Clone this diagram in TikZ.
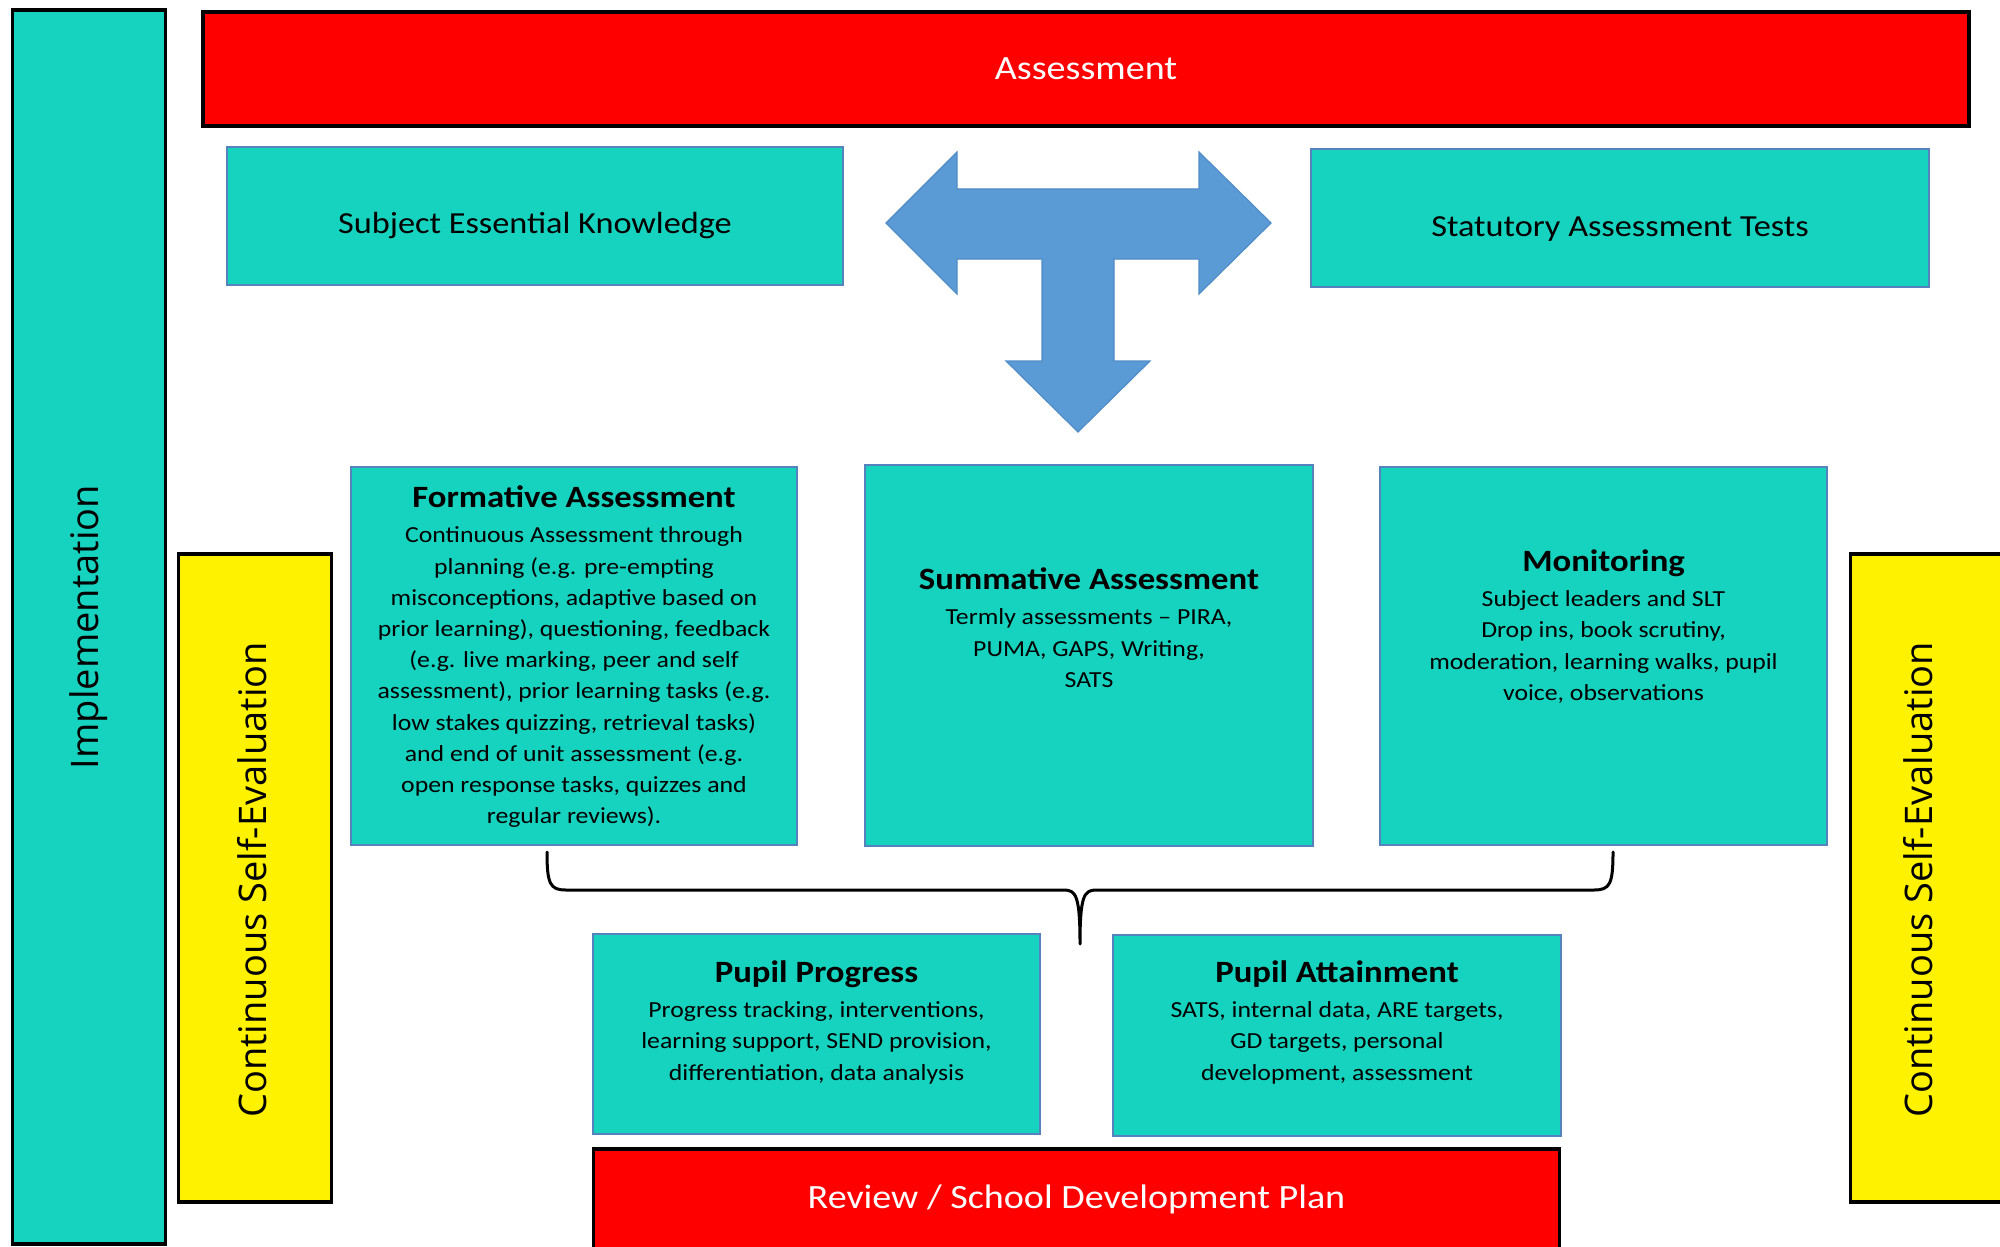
\documentclass[tikz,border=0pt]{standalone}
\usepackage{fontspec}
\setmainfont{Carlito}[FakeStretch=1.12]
\newfontfamily\osans{Open Sans}
\definecolor{tealbox}{RGB}{22,211,192}
\definecolor{tealedge}{RGB}{86,130,190}
\definecolor{arrowblue}{RGB}{91,155,213}
\definecolor{arrowedge}{RGB}{80,140,200}
\tikzset{
  tealrect/.style={fill=tealbox, draw=tealedge, line width=0.6pt, inner sep=0pt},
  redbar/.style={fill=red, draw=black, line width=1.6pt, inner sep=0pt, text=white, font=\fontsize{17}{20}\selectfont},
  yellowbar/.style={fill=yellow, draw=black, line width=1.6pt, inner sep=0pt, rotate=90},
  implbar/.style={fill=tealbox, draw=black, line width=1.6pt, inner sep=0pt, rotate=90, font=\osans\fontsize{19}{22}\selectfont},
  sidetext/.style={rotate=90, inner sep=0pt, font=\osans\fontsize{19}{22}\selectfont},
  bodytext/.style={align=center, inner sep=0pt, anchor=north, font=\fontsize{11.5}{15.6}\selectfont},
  toptext/.style={inner sep=0pt, font=\fontsize{15.3}{18}\selectfont},
  brace/.style={draw=black, line width=1.5pt, line cap=round, line join=round}
}
\newcommand{\ttl}[1]{{\fontsize{15.5}{18}\selectfont\bfseries #1}\\[2.2pt]}
\begin{document}
\begin{tikzpicture}[x=0.5pt,y=-0.5pt]
\useasboundingbox (0,0) rectangle (2000,1246);
\fill[white] (0,0) rectangle (2000,1246);

% vertical bars
\node[implbar, minimum width=617pt, minimum height=76.5pt] (impl) at (89,627) {Implementation};
\node[yellowbar, minimum width=324pt, minimum height=76.5pt] (yl) at (255,878) {};
\node[yellowbar, minimum width=324pt, minimum height=76.5pt] (yr) at (1927,878) {};
\node[sidetext] (yltext) at (252,880) {Continuous Self-Evaluation};
\node[sidetext] (yrtext) at (1918,880) {Continuous Self-Evaluation};

% top red bar
\node[redbar, minimum width=883pt, minimum height=57pt] (assess) at (1086,69) {Assessment};

% top teal boxes
\node[tealrect, minimum width=308pt, minimum height=69pt] (sek) at (535,216) {};
\node[tealrect, minimum width=309pt, minimum height=69pt] (sat) at (1620,218) {};
\node[toptext] (sektext) at (535,226) {Subject Essential Knowledge};
\node[toptext] (sattext) at (1620,229) {Statutory Assessment Tests};

% T arrow
\filldraw[fill=arrowblue, draw=arrowedge, line width=0.6pt, line join=miter]
  (886,223) -- (957,152) -- (957,189) -- (1199,189) -- (1199,152) -- (1271,223)
  -- (1199,294) -- (1199,259) -- (1114,259) -- (1114,361) -- (1150,361)
  -- (1078,432) -- (1006,361) -- (1042,361) -- (1042,259) -- (957,259)
  -- (957,294) -- cycle;

% middle boxes
\node[tealrect, minimum width=223pt, minimum height=189pt] (form) at (574,656) {};
\node[tealrect, minimum width=224pt, minimum height=190.5pt] (summ) at (1089,655.5) {};
\node[tealrect, minimum width=223.5pt, minimum height=189pt] (mon) at (1603.5,656) {};

\node[bodytext] (formtext) at (574,485) {\ttl{Formative Assessment}
Continuous Assessment through\\
planning (e.g. pre-empting\\
misconceptions, adaptive based on\\
prior learning), questioning, feedback\\
(e.g. live marking, peer and self\\
assessment), prior learning tasks (e.g.\\
low stakes quizzing, retrieval tasks)\\
and end of unit assessment (e.g.\\
open response tasks, quizzes and\\
regular reviews).};

\node[bodytext] (summtext) at (1089,567) {\ttl{Summative Assessment}
Termly assessments -- PIRA,\\
PUMA, GAPS, Writing,\\
SATS};

\node[bodytext] (montext) at (1603.5,549) {\ttl{Monitoring}
Subject leaders and SLT\\
Drop ins, book scrutiny,\\
moderation, learning walks, pupil\\
voice, observations};

% brace
\coordinate (bl) at (547,852);
\coordinate (br) at (1613,852);
\coordinate (bm) at (1080,944);
\draw[brace] (bl) .. controls (547,884) and (550,890) .. (566,890)
  -- (1064,890) .. controls (1076,890) and (1080,896) .. (bm)
  .. controls (1080,896) and (1084,890) .. (1096,890)
  -- (1594,890) .. controls (1610,890) and (1613,884) .. (br);

% bottom boxes
\node[tealrect, minimum width=223.5pt, minimum height=100pt] (pp) at (816.5,1034) {};
\node[tealrect, minimum width=224pt, minimum height=100.5pt] (pa) at (1337,1035.5) {};

\node[bodytext] (pptext) at (816.5,960) {\ttl{Pupil Progress}
Progress tracking, interventions,\\
learning support, SEND provision,\\
differentiation, data analysis};

\node[bodytext] (patext) at (1337,960) {\ttl{Pupil Attainment}
SATS, internal data, ARE targets,\\
GD targets, personal\\
development, assessment};

% bottom red bar
\node[redbar, minimum width=483pt, minimum height=50pt] (rev) at (1076.5,1199) {Review / School Development Plan};
\end{tikzpicture}
\end{document}
